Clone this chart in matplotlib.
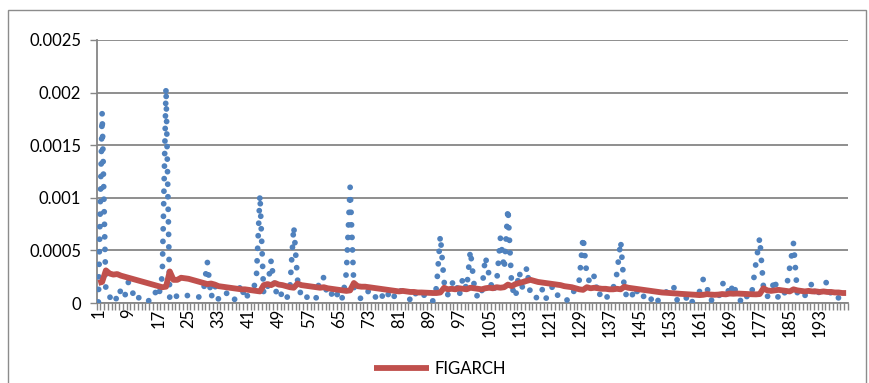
import matplotlib
matplotlib.use("Agg")
import matplotlib.pyplot as plt
from matplotlib.patches import Rectangle
from matplotlib.ticker import FixedLocator, FuncFormatter

plt.rcParams['font.family'] = ['Lato', 'DejaVu Sans']

# Observation index 1..200
periods = list(range(1, 201))

# Realised (squared-return) volatility proxy, units of 1e-4
realised_e4 = [
    0.1, 18.1, 1.0, 0.5, 1.0, 0.2, 1.3, 0.6, 2.0, 1.1,
    0.2, 0.6, 0.3, 0.1, 0.4, 1.1, 0.5, 2.6, 20.5, 0.3,
    0.8, 0.6, 0.4, 0.5, 0.8, 0.6, 0.5, 0.6, 1.2, 3.9,
    0.5, 1.7, 0.3, 0.6, 1.0, 0.4, 0.2, 0.8, 1.8, 0.3,
    0.9, 1.3, 2.0, 10.3, 0.8, 1.4, 4.1, 0.9, 1.5, 0.5,
    0.2, 1.6, 7.3, 2.2, 0.6, 0.3, 0.8, 0.4, 0.5, 2.5,
    2.4, 0.6, 0.9, 0.3, 1.2, 0.4, 2.9, 11.0, 1.5, 0.9,
    0.3, 0.7, 1.2, 0.5, 0.6, 1.1, 0.3, 0.9, 0.2, 0.8,
    1.4, 0.9, 0.7, 0.3, 1.1, 0.6, 0.4, 0.9, 0.5, 0.2,
    1.5, 6.4, 2.0, 0.8, 1.8, 2.2, 0.6, 2.4, 1.3, 5.0,
    1.7, 0.4, 1.0, 4.4, 2.6, 1.0, 2.0, 6.2, 3.2, 9.0,
    1.6, 0.5, 3.0, 1.2, 3.4, 0.8, 0.4, 0.6, 1.4, 0.3,
    1.2, 1.6, 0.7, 0.9, 0.5, 0.2, 0.9, 1.3, 2.2, 6.3,
    2.6, 1.8, 2.6, 0.6, 1.1, 0.5, 0.7, 1.4, 2.8, 5.9,
    1.2, 0.3, 0.7, 1.5, 0.4, 0.6, 0.9, 0.3, 0.8, 0.2,
    0.7, 1.0, 1.4, 1.7, 0.3, 0.5, 0.2, 0.8, 0.1, 0.7,
    1.1, 2.3, 1.4, 0.2, 0.6, 0.4, 1.8, 2.0, 0.7, 1.9,
    0.5, 0.2, 0.9, 0.4, 1.2, 3.8, 6.2, 1.5, 0.6, 1.0,
    2.3, 0.3, 0.6, 1.2, 3.4, 5.7, 1.0, 0.4, 0.7, 1.1,
    2.0, 0.5, 1.2, 1.8, 2.0, 0.8, 0.3, 0.5, 0.6, 0.9,
]

# FIGARCH conditional variance, units of 1e-4
figarch_e4 = [
    1.9, 2.0, 3.1, 2.8, 2.7, 2.75, 2.6, 2.5, 2.4, 2.3,
    2.2, 2.1, 2.0, 1.9, 1.8, 1.7, 1.6, 1.5, 1.55, 3.0,
    2.2, 2.2, 2.4, 2.35, 2.3, 2.2, 2.1, 2.0, 1.9, 1.8,
    1.85, 1.75, 1.6, 1.55, 1.5, 1.45, 1.4, 1.35, 1.3, 1.3,
    1.25, 1.2, 1.15, 1.1, 1.7, 1.8, 1.7, 1.9, 1.75, 1.7,
    1.6, 1.5, 1.45, 1.85, 1.7, 1.65, 1.6, 1.55, 1.5, 1.45,
    1.5, 1.4, 1.35, 1.3, 1.25, 1.2, 1.15, 1.2, 1.9, 1.6,
    1.55, 1.55, 1.5, 1.45, 1.4, 1.35, 1.3, 1.25, 1.2, 1.15,
    1.1, 1.15, 1.1, 1.05, 1.05, 1.0, 1.0, 0.98, 0.97, 0.95,
    0.95, 1.0, 1.45, 1.3, 1.35, 1.3, 1.4, 1.35, 1.3, 1.45,
    1.4, 1.35, 1.3, 1.4, 1.45, 1.4, 1.5, 1.45, 1.5, 1.75,
    1.6, 1.8, 1.9, 2.0, 2.1, 2.2, 2.1, 2.0, 1.95, 1.9,
    1.85, 1.8, 1.75, 1.7, 1.6, 1.55, 1.5, 1.4, 1.3, 1.25,
    1.5, 1.4, 1.45, 1.4, 1.35, 1.35, 1.3, 1.3, 1.35, 1.3,
    1.55, 1.45, 1.4, 1.35, 1.3, 1.25, 1.2, 1.15, 1.1, 1.05,
    1.0, 0.98, 0.95, 0.92, 0.9, 0.87, 0.85, 0.82, 0.8, 0.78,
    0.75, 0.78, 0.85, 0.8, 0.78, 0.8, 0.85, 0.82, 0.9, 0.88,
    0.9, 0.88, 0.85, 0.85, 0.83, 0.82, 0.85, 1.4, 1.2, 1.15,
    1.2, 1.25, 1.2, 1.15, 1.1, 1.3, 1.2, 1.15, 1.1, 1.15,
    1.1, 1.1, 1.05, 1.1, 1.05, 1.05, 1.0, 1.0, 0.95, 0.95,
]

realised = [v * 1e-4 for v in realised_e4]
figarch = [v * 1e-4 for v in figarch_e4]

y_ticks = [0, 0.0005, 0.001, 0.0015, 0.002, 0.0025]
y_labels = ["0", "0.0005", "0.001", "0.0015", "0.002", "0.0025"]
x_label_step = 8

blue = "#4F81BD"
red = "#C0504D"
gray = "#868686"

W, H = 869, 383
fig = plt.figure(figsize=(W / 100, H / 100), dpi=100)
ax = fig.add_axes([96.5 / W, 1 - 303 / H, (848 - 96.5) / W, (303 - 40) / H])

ax.plot(periods, realised, color=blue, lw=4.2,
        linestyle=(0, (0.001, 2.15)), dash_capstyle="round",
        solid_capstyle="round", zorder=3)
ax.plot(periods, figarch, color=red, lw=4.2, solid_joinstyle="round",
        solid_capstyle="butt", label="FIGARCH", zorder=4)

ax.set_xlim(0.5, len(periods) + 0.5)
ax.set_ylim(0, 0.0025)

ax.set_yticks(y_ticks)
ax.set_yticklabels(y_labels)
ax.yaxis.grid(True, color=gray, lw=1.3)
ax.set_axisbelow(True)

major = periods[::x_label_step]
ax.xaxis.set_major_locator(FixedLocator(major))
ax.xaxis.set_major_formatter(FuncFormatter(lambda v, p: f"{int(round(v))}"))
ax.xaxis.set_minor_locator(FixedLocator([p + 0.5 for p in [0] + periods]))
ax.tick_params(axis="x", which="major", length=0, pad=4, labelsize=12,
               labelrotation=90, colors="black")
ax.tick_params(axis="x", which="minor", length=5, width=1, color=gray,
               direction="out")
ax.tick_params(axis="y", length=5, width=1, color=gray, labelsize=12,
               pad=6)

for side in ("top", "right"):
    ax.spines[side].set_visible(False)
for side in ("left", "bottom"):
    ax.spines[side].set_color(gray)
    ax.spines[side].set_linewidth(1.3)

fig.legend(loc="center", bbox_to_anchor=(440 / W, 1 - 369 / H),
           frameon=False, fontsize=12, handlelength=3.3, handletextpad=0.35)

# Chart-area border
fig.patches.append(Rectangle((8 / W, -0.1), (866 - 8) / W, 1.1 - 10 / H,
                             transform=fig.transFigure, fill=False,
                             edgecolor="#8c8c8c", lw=1.0))

fig.savefig("out.png", dpi=100, facecolor="white")
